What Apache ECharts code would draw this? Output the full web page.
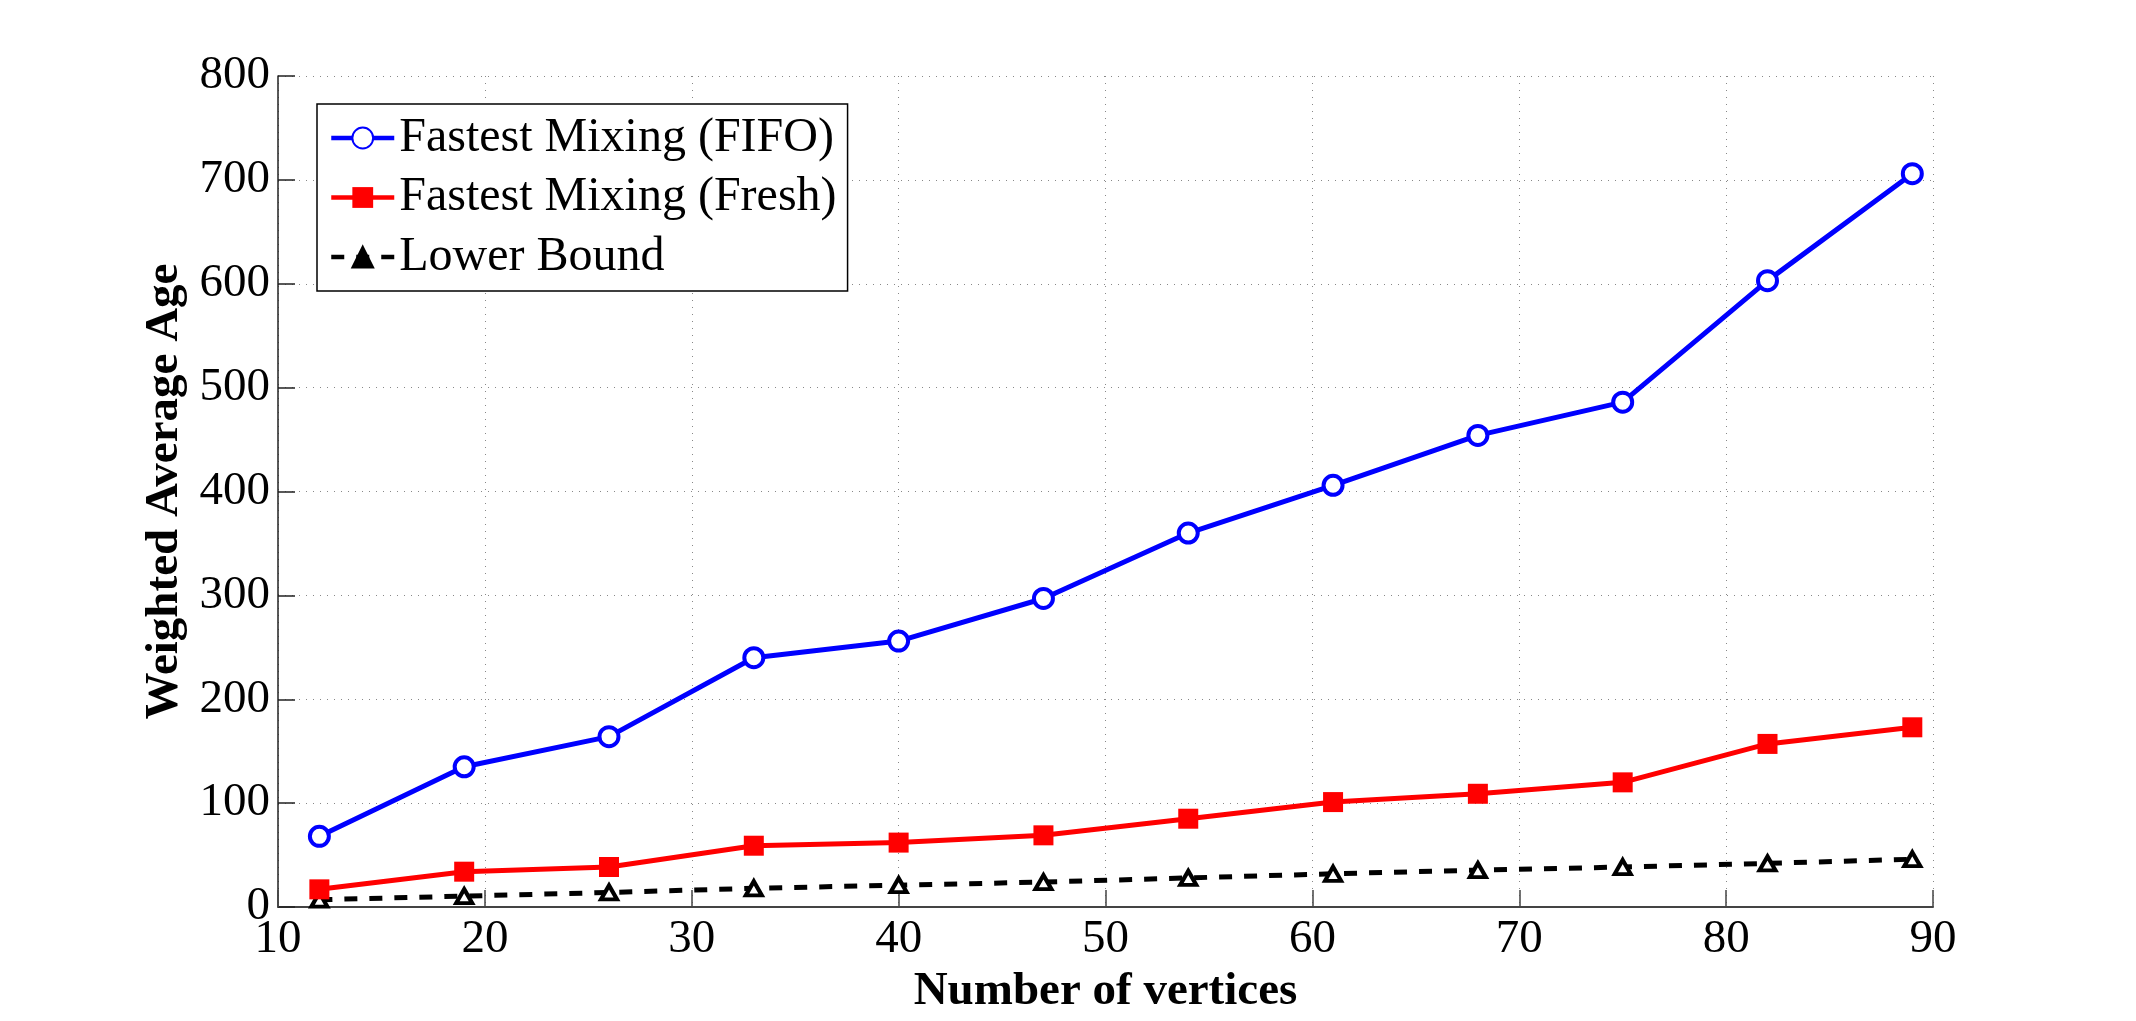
<!DOCTYPE html>
<html>
<head>
<meta charset="utf-8">
<script src="https://cdn.jsdelivr.net/npm/echarts@6/dist/echarts.min.js"></script>
<style>
html,body{margin:0;padding:0;background:#fff;}
#chart{width:2136px;height:1021px;}
</style>
</head>
<body>
<div id="chart"></div>
<script>
const vertices = [12, 19, 26, 33, 40, 47, 54, 61, 68, 75, 82, 89];
const fifo = [68, 135, 164, 240, 256, 297, 360, 406, 454, 486, 603, 706];
const fresh = [17, 34, 38.5, 59, 62, 69, 85, 101, 109, 120, 157, 173];
const lowerBound = [7, 10.5, 14, 18, 21, 24, 28, 32, 35.5, 38.5, 42, 46];
const seriesNames = ['Fastest Mixing (FIFO)', 'Fastest Mixing (Fresh)', 'Lower Bound'];
const xLabel = 'Number of vertices';
const yLabel = 'Weighted Average Age';

const FONT = 'Liberation Serif';
const pair = (xs, ys) => xs.map((x, i) => [x, ys[i]]);

const chart = echarts.init(document.getElementById('chart'), null, {renderer: 'canvas'});
const gridLine = {show: true, lineStyle: {color: '#888', width: 1, type: [1, 6]}};
chart.setOption({
  animation: false,
  backgroundColor: '#fff',
  grid: {left: 278, top: 76, right: 203, bottom: 114, containLabel: false},
  xAxis: {
    type: 'value', min: 10, max: 90, interval: 10,
    name: xLabel, nameLocation: 'middle', nameGap: 50,
    nameTextStyle: {fontFamily: FONT, fontSize: 47, fontWeight: 'bold', color: '#000'},
    axisLine: {show: true, onZero: false, lineStyle: {color: '#444', width: 2}},
    axisTick: {show: true, inside: true, length: 17, lineStyle: {color: '#444', width: 1.5}},
    axisLabel: {fontFamily: FONT, fontSize: 47, color: '#000', margin: 9},
    splitLine: gridLine
  },
  yAxis: {
    type: 'value', min: 0, max: 800, interval: 100,
    name: yLabel, nameLocation: 'middle', nameGap: 70,
    nameTextStyle: {fontFamily: FONT, fontSize: 47, fontWeight: 'bold', color: '#000'},
    axisLine: {show: true, lineStyle: {color: '#222', width: 1.5}},
    axisTick: {show: true, inside: true, length: 17, lineStyle: {color: '#222', width: 1.5}},
    axisLabel: {fontFamily: FONT, fontSize: 47, color: '#000', margin: 8},
    splitLine: gridLine
  },
  legend: {
    orient: 'vertical', left: 317, top: 104,
    backgroundColor: '#fff', borderColor: '#000', borderWidth: 1.5,
    padding: [10, 11, 10, 12],
    itemWidth: 63, itemHeight: 26, itemGap: 11.5,
    textStyle: {fontFamily: FONT, fontSize: 48, color: '#000', lineHeight: 47},
    data: [
      {name: seriesNames[0], lineStyle: {width: 4.5}},
      {name: seriesNames[1], lineStyle: {width: 4.5}},
      {name: seriesNames[2], lineStyle: {width: 4.5}, itemStyle: {color: '#000', borderColor: '#000'}}
    ]
  },
  series: [
    {
      name: seriesNames[0], type: 'line', data: pair(vertices, fifo),
      symbol: 'circle', symbolSize: 19, showAllSymbol: true,
      lineStyle: {color: '#0000ff', width: 5},
      itemStyle: {color: '#fff', borderColor: '#0000ff', borderWidth: 4},
      z: 4
    },
    {
      name: seriesNames[1], type: 'line', data: pair(vertices, fresh),
      symbol: 'rect', symbolSize: 20, showAllSymbol: true,
      lineStyle: {color: '#ff0000', width: 5},
      itemStyle: {color: '#ff0000', borderColor: '#ff0000', borderWidth: 0},
      z: 3
    },
    {
      name: seriesNames[2], type: 'line', data: pair(vertices, lowerBound),
      symbol: 'triangle', symbolSize: [16, 14], showAllSymbol: true,
      lineStyle: {color: '#000', width: 5, type: [13, 12]},
      itemStyle: {color: '#fff', borderColor: '#000', borderWidth: 4},
      z: 2
    }
  ]
});
</script>
</body>
</html>
